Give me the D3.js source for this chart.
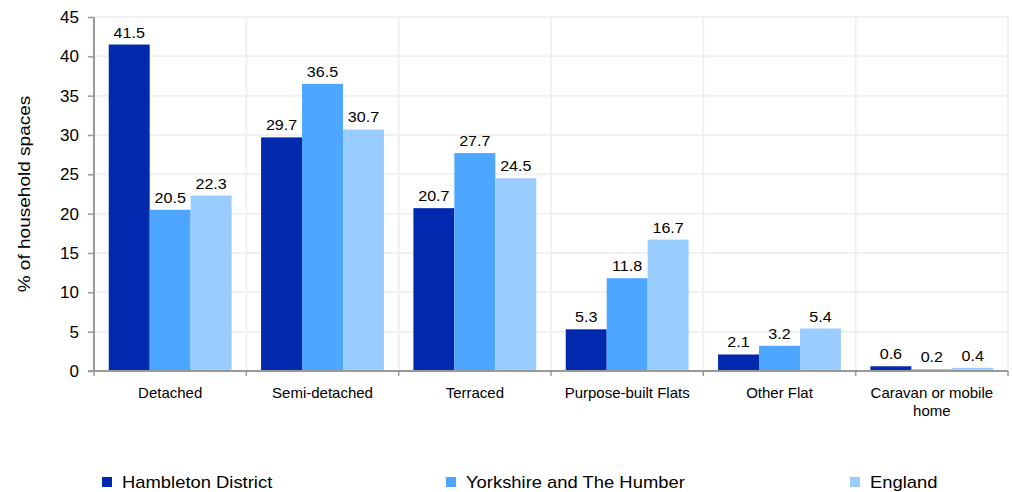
<!DOCTYPE html>
<html>
<head>
<meta charset="utf-8">
<script src="https://cdn.jsdelivr.net/npm/d3@7/dist/d3.min.js"></script>
<style>
  body { margin: 0; background: #fff; }
  svg { display: block; font-family: "Liberation Sans", Arial, sans-serif; }
</style>
</head>
<body>
<svg id="chart" width="1012" height="492"></svg>
<script>
const categories = ["Detached", "Semi-detached", "Terraced", "Purpose-built Flats", "Other Flat", "Caravan or mobile home"];
const seriesNames = ["Hambleton District", "Yorkshire and The Humber", "England"];
const hambleton = [41.5, 29.7, 20.7, 5.3, 2.1, 0.6];
const yorkshire = [20.5, 36.5, 27.7, 11.8, 3.2, 0.2];
const england = [22.3, 30.7, 24.5, 16.7, 5.4, 0.4];
const yTicks = [0, 5, 10, 15, 20, 25, 30, 35, 40, 45];
const colors = ["#0029ae", "#4da6ff", "#99ccff"];

const seriesValues = [hambleton, yorkshire, england];

const svg = d3.select("#chart");
const mLeft = 94, mRight = 1008, mTop = 17, mBottom = 371;

const x = d3.scaleBand().domain(categories).range([mLeft, mRight]).paddingInner(0).paddingOuter(0);
const x1 = d3.scaleBand().domain(seriesNames).range([0, x.bandwidth()]).paddingInner(0).paddingOuter(0.36);
const y = d3.scaleLinear().domain([0, 45]).range([mBottom, mTop]);

// gridlines
const grid = svg.append("g");
grid.selectAll("line.h").data(yTicks.filter(d => d > 0)).enter().append("line")
  .attr("x1", mLeft).attr("x2", mRight)
  .attr("y1", d => y(d)).attr("y2", d => y(d))
  .attr("stroke", "#f0f0f0").attr("stroke-width", 2);
const bounds = categories.map(c => x(c) + x.bandwidth());
grid.selectAll("line.v").data(bounds).enter().append("line")
  .attr("x1", d => d).attr("x2", d => d)
  .attr("y1", mTop).attr("y2", mBottom)
  .attr("stroke", "#f0f0f0").attr("stroke-width", 2);

// bars
const groups = svg.append("g").selectAll("g").data(categories).enter().append("g")
  .attr("transform", c => `translate(${x(c)},0)`);
groups.selectAll("rect").data((c, i) => seriesNames.map((s, j) => ({ s, j, v: seriesValues[j][i] })))
  .enter().append("rect")
  .attr("x", d => x1(d.s)).attr("width", x1.bandwidth())
  .attr("y", d => y(d.v)).attr("height", d => y(0) - y(d.v))
  .attr("fill", d => colors[d.j]);
groups.selectAll("text").data((c, i) => seriesNames.map((s, j) => ({ s, j, v: seriesValues[j][i] })))
  .enter().append("text")
  .attr("transform", d => `translate(${x1(d.s) + x1.bandwidth() / 2},${y(d.v) - 7}) scale(1.15,1)`)
  .attr("text-anchor", "middle")
  .attr("font-size", 14).attr("fill", "#000")
  .text(d => d.v.toFixed(1));

// y axis
const yAxis = svg.append("g").attr("transform", `translate(${mLeft},0)`)
  .call(d3.axisLeft(y).tickValues(yTicks).tickSize(6).tickPadding(9).tickFormat(d3.format("d")));
yAxis.select(".domain").attr("stroke", "#999").attr("stroke-width", 2).attr("d", `M0,${mTop}V${mBottom}`);
yAxis.selectAll(".tick line").attr("stroke", "#999").attr("stroke-width", 1.5);
yAxis.selectAll(".tick text").attr("font-size", 17).attr("fill", "#000").attr("font-family", "Liberation Sans, Arial, sans-serif");

// x axis
const xAxisG = svg.append("g").attr("transform", `translate(0,${mBottom})`);
xAxisG.append("line").attr("x1", mLeft - 6).attr("x2", mRight).attr("y1", 0).attr("y2", 0)
  .attr("stroke", "#999").attr("stroke-width", 2);
const xTickPos = [mLeft].concat(bounds);
xAxisG.selectAll("line.t").data(xTickPos).enter().append("line")
  .attr("x1", d => d).attr("x2", d => d).attr("y1", 0).attr("y2", 5)
  .attr("stroke", "#999").attr("stroke-width", 1.5);
const catLabels = xAxisG.selectAll("text").data(categories).enter().append("text")
  .attr("x", c => x(c) + x.bandwidth() / 2)
  .attr("y", 26.5)
  .attr("text-anchor", "middle").attr("font-size", 15).attr("fill", "#000");
catLabels.each(function(c) {
  const t = d3.select(this);
  const lines = c === "Caravan or mobile home" ? ["Caravan or mobile", "home"] : [c];
  lines.forEach((l, i) => t.append("tspan").attr("x", x(c) + x.bandwidth() / 2).attr("dy", i === 0 ? 0 : 18).text(l));
});

// y axis title
svg.append("text").attr("transform", "translate(30,194) rotate(-90) scale(1.12,1)")
  .attr("text-anchor", "middle").attr("font-size", 17).attr("fill", "#000")
  .text("% of household spaces");

// legend
const legendX = [102, 446, 850];
const leg = svg.append("g").selectAll("g").data(seriesNames).enter().append("g")
  .attr("transform", (d, i) => `translate(${legendX[i]},477)`);
leg.append("rect").attr("width", 10).attr("height", 10).attr("fill", (d, i) => colors[i]);
leg.append("text").attr("transform", "translate(20,10.7) scale(1.15,1)")
  .attr("font-size", 16).attr("fill", "#000").text(d => d);
</script>
</body>
</html>
